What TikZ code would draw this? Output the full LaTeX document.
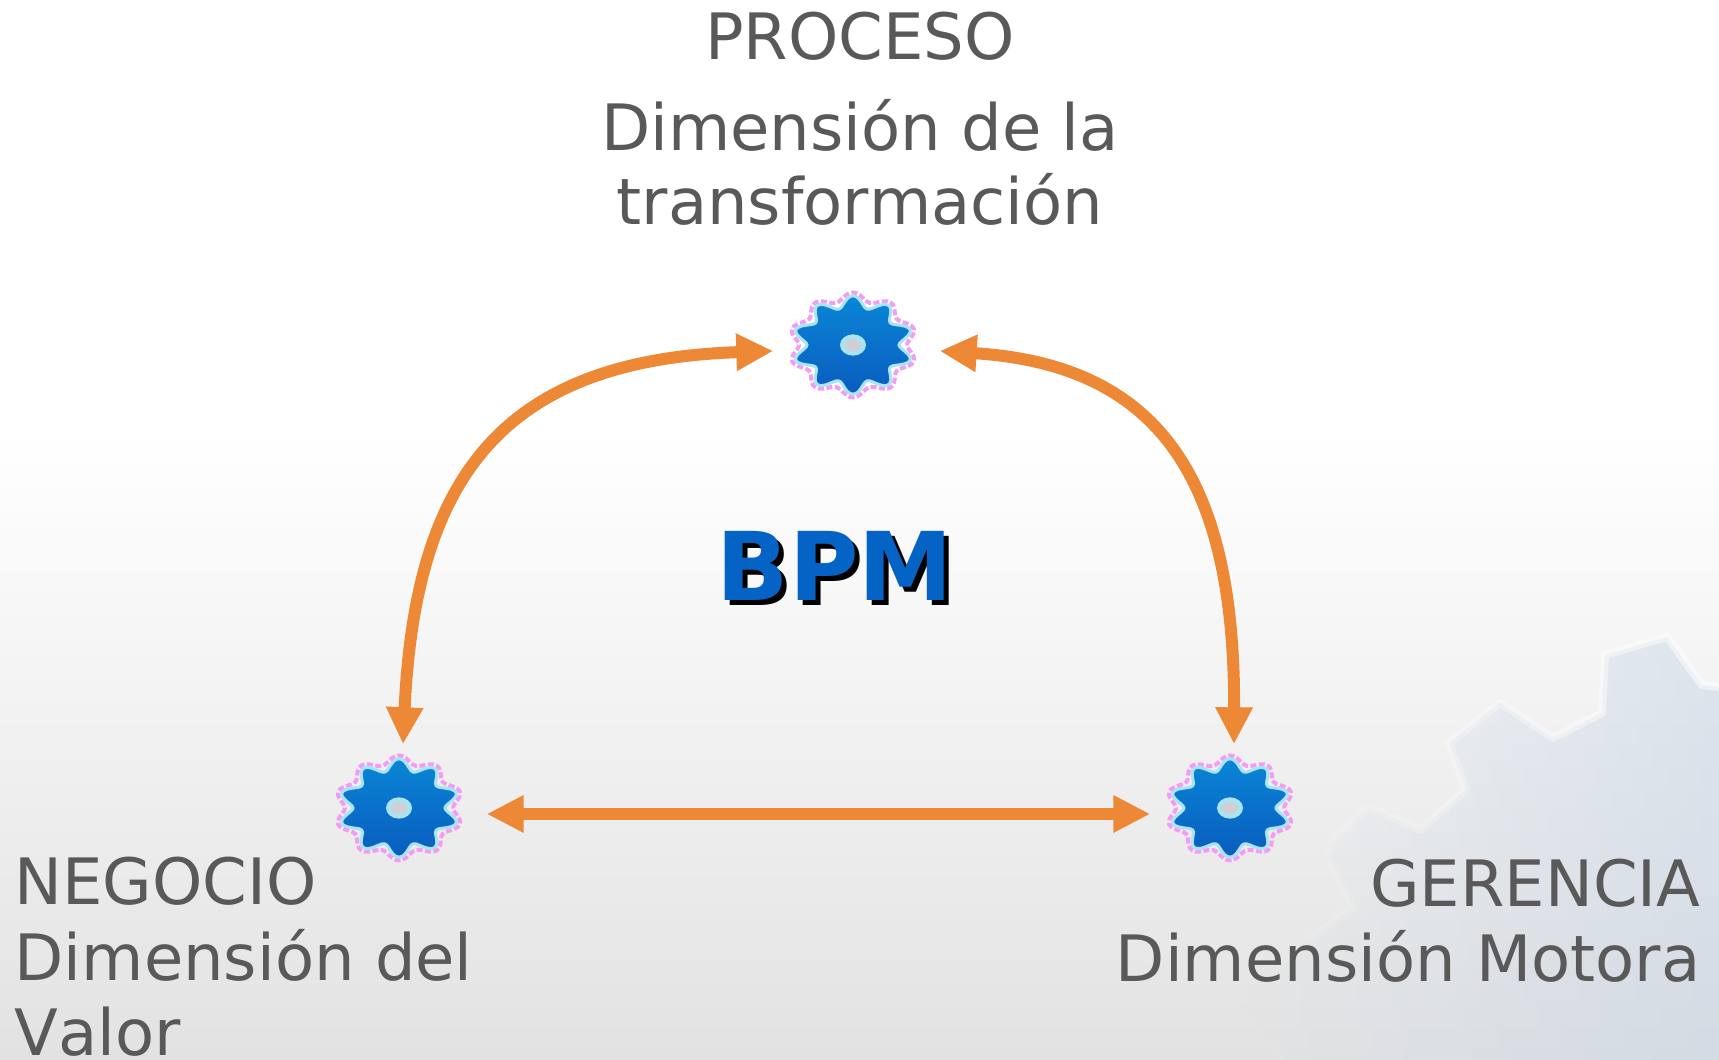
\documentclass[tikz,border=0pt]{standalone}
\usepackage{fontspec}
\setmainfont[Kerning=Off]{DejaVu Sans}
\usetikzlibrary{arrows.meta,fadings}

\definecolor{labelgray}{HTML}{595959}
\definecolor{arroworange}{HTML}{ED8936}
\definecolor{bpmblue}{HTML}{0563C5}
\definecolor{backgray}{HTML}{E2E2E2}
\definecolor{bigcog}{HTML}{C5D4E6}
\definecolor{cogtop}{HTML}{0A86D6}
\definecolor{cogbottom}{HTML}{0A5CBE}
\definecolor{coghalo}{HTML}{A8E4F4}
\definecolor{coghub}{HTML}{CFCFD6}
\definecolor{cogpink}{HTML}{F49CF4}

\tikzfading[name=bigcogfade, left color=transparent!100, right color=transparent!0]

\tikzset{
    label/.style={text=labelgray, font=\fontsize{18.2}{21.4}\selectfont, inner sep=0pt},
    bpmtext/.style={font=\fontsize{27}{30}\selectfont\bfseries, inner sep=0pt, anchor=base},
    cognode/.style={minimum width=1.66cm, minimum height=1.26cm, inner sep=0pt},
    link/.style={draw=arroworange, line width=0.12cm, {Triangle[length=0.37cm,width=0.35cm]}-{Triangle[length=0.37cm,width=0.35cm]}},
    pics/cog/.style={code={
        \begin{scope}[yscale=0.82]
        \draw[cogpink, line width=0.04cm, dash pattern=on 0.06cm off 0.025cm]
            plot[domain=0:360, samples=121] (\x:{0.59-0.05*cos(10*\x)}) -- cycle;
        \shade[top color=cogtop, bottom color=cogbottom, draw=coghalo, line width=0.03cm]
            plot[domain=0:360, samples=121] (\x:{0.53-0.07*cos(10*\x)}) -- cycle;
        \fill[coghalo] (0, 0) circle (0.13);
        \fill[coghub] (0, 0) circle (0.08);
        \end{scope}
    }}
}

\begin{document}
\begin{tikzpicture}
    \useasboundingbox (0, 0) rectangle (17.19, 10.6);

    % background
    \fill[white] (0, 6.3) rectangle (17.19, 10.6);
    \shade[top color=white, bottom color=backgray] (0, 0) rectangle (17.19, 6.3);

    % large cog behind the lower right corner
    \fill[bigcog, fill opacity=0.5, path fading=bigcogfade]
        (12.84, 0) -- (12.44, 0.53) -- (12.59, 0.83) -- (13.53, 1.53) -- (13.28, 2.03)
        -- (13.31, 2.17) -- (13.68, 2.53) -- (14.20, 2.30) -- (14.66, 2.70) -- (14.49, 3.17)
        -- (15.00, 3.57) -- (15.53, 3.22) -- (16.02, 3.47) -- (16.05, 4.05) -- (16.67, 4.23)
        -- (17.02, 3.75) -- (17.19, 3.73) -- (17.19, 0) -- cycle;
    \draw[white, line width=0.08cm, opacity=0.55, line join=round, path fading=bigcogfade]
        (12.84, 0) -- (12.44, 0.53) -- (12.59, 0.83) -- (13.53, 1.53) -- (13.28, 2.03)
        -- (13.31, 2.17) -- (13.68, 2.53) -- (14.20, 2.30) -- (14.66, 2.70) -- (14.49, 3.17)
        -- (15.00, 3.57) -- (15.53, 3.22) -- (16.02, 3.47) -- (16.05, 4.05) -- (16.67, 4.23)
        -- (17.02, 3.75) -- (17.19, 3.73);

    % cogs
    \node[cognode] (cogProceso) at (8.53, 7.15) {};
    \node[cognode] (cogNegocio) at (3.99, 2.52) {};
    \node[cognode] (cogGerencia) at (12.30, 2.52) {};
    \pic at (cogProceso) {cog};
    \pic at (cogNegocio) {cog};
    \pic at (cogGerencia) {cog};

    % arrows
    \draw[link] ([xshift=0.04cm]cogNegocio.north) .. controls (4.15, 5.80) and (5.00, 7.00) .. ([xshift=0.04cm,yshift=-0.06cm]cogProceso.west);
    \draw[link] ([xshift=0.03cm,yshift=-0.06cm]cogProceso.east) .. controls (11.60, 6.95) and (12.35, 5.80) .. ([xshift=0.04cm]cogGerencia.north);
    \draw[link] ([xshift=0.04cm,yshift=-0.06cm]cogNegocio.east) -- ([xshift=0.04cm,yshift=-0.06cm]cogGerencia.west);

    % texts
    \node[label, anchor=base] (proceso) at (8.60, 10.00) {PROCESO};
    \node[label, anchor=base] (dimTop) at (8.60, 9.09) {Dimensión de la};
    \node[label, anchor=base] (dimBottom) at (8.60, 8.35) {transformación};
    \node[bpmtext, text=black] (bpmShadow) at (8.40, 4.54) {BPM};
    \node[bpmtext, text=bpmblue] (bpm) at (8.35, 4.59) {BPM};
    \node[label, anchor=south west, align=left] (negocio) at (0.14, 0.03) {NEGOCIO\\Dimensión del\\Valor};
    \node[label, anchor=base east] (gerencia) at (17.01, 1.53) {GERENCIA};
    \node[label, anchor=base east] (dimMotora) at (17.01, 0.78) {Dimensión Motora};
\end{tikzpicture}
\end{document}
